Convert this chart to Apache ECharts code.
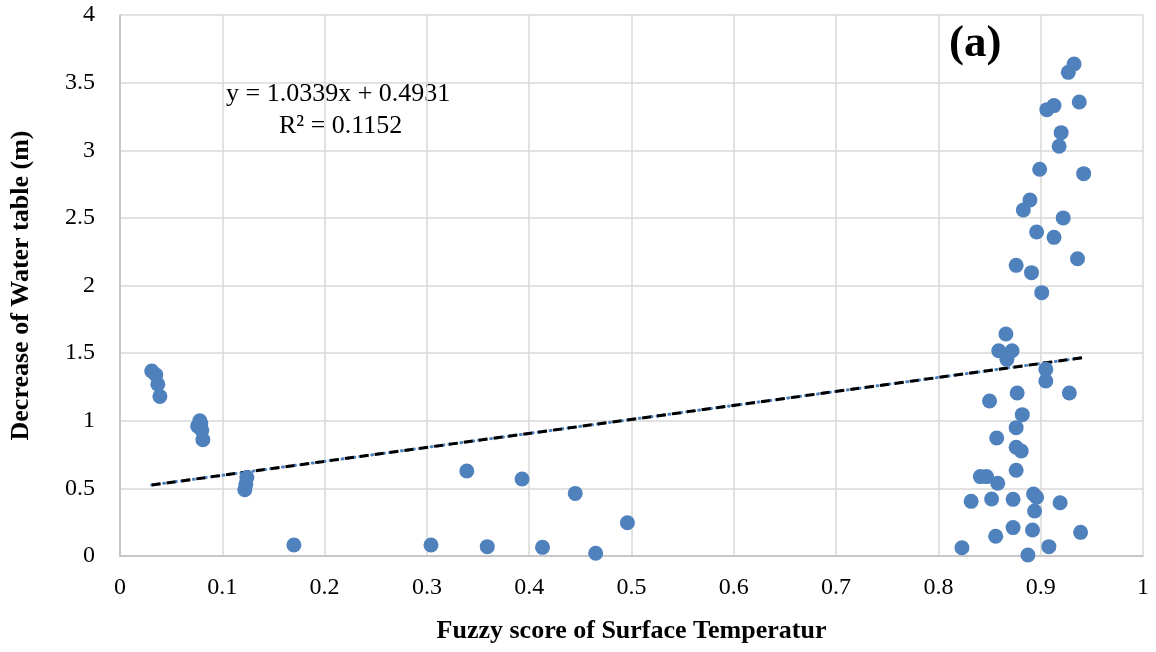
<!DOCTYPE html>
<html><head><meta charset="utf-8">
<script src="https://cdn.jsdelivr.net/npm/echarts@6/dist/echarts.min.js"></script>
<style>html,body{margin:0;padding:0;background:#fff}#c{width:1156px;height:652px}</style>
</head><body><div id="c"></div>
<script>
const xValues = [0.031,0.035,0.037,0.039, 0.078,0.079,0.076,0.080,0.081, 0.124,0.123,0.122,
 0.170,0.304,0.339,0.359,0.393,0.413,0.445,0.465,0.496,
 0.9326,0.927,0.9377,0.913,0.906,0.920,0.918,0.899,0.942,0.8895,0.883,0.922,0.896,0.913,0.876,0.936,0.891,0.901,
 0.866,0.859,0.872,0.867,0.905,0.905,0.877,0.928,0.850,0.882,0.876,0.857,0.876,0.881,0.876,0.841,0.847,0.858,
 0.893,0.896,0.832,0.852,0.873,0.919,0.894,0.873,0.856,0.892,0.939,0.823,0.908,0.8875];
const yValues = [1.368,1.34,1.27,1.18, 1.00,0.98,0.96,0.93,0.86, 0.58,0.53,0.49,
 0.081,0.081,0.628,0.069,0.569,0.064,0.463,0.02,0.246,
 3.638,3.576,3.357,3.33,3.30,3.13,3.03,2.86,2.827,2.632,2.558,2.50,2.396,2.356,2.149,2.198,2.095,1.947,
 1.641,1.518,1.518,1.454,1.38,1.294,1.205,1.205,1.146,1.045,0.949,0.872,0.804,0.776,0.634,0.587,0.587,0.538,
 0.458,0.434,0.404,0.421,0.419,0.394,0.333,0.21,0.146,0.192,0.175,0.061,0.069,0.007];
const slope = 1.0339, intercept = 0.4931;
const equationText = 'y = 1.0339x + 0.4931';
const r2Text = 'R² = 0.1152';
const panelLabel = '(a)';
const xTitle = 'Fuzzy score of Surface Temperatur';
const yTitle = 'Decrease of Water table (m)';

const pts = xValues.map((x,i)=>[x,yValues[i]]);
const xmin = Math.min(...xValues), xmax = Math.max(...xValues);
const trend = [[xmin, slope*xmin+intercept],[xmax, slope*xmax+intercept]];
const font = '"Liberation Serif","Times New Roman",serif';

const chart = echarts.init(document.getElementById('c'));
chart.setOption({
  animation:false,
  backgroundColor:'#fff',
  grid:{left:120,right:13,top:15,bottom:96,containLabel:false,outerBoundsMode:'none'},
  xAxis:{type:'value',min:0,max:1,interval:0.1,
    name:xTitle,nameLocation:'middle',nameGap:62,
    nameTextStyle:{fontFamily:font,fontSize:26,fontWeight:'bold',color:'#000'},
    axisLine:{show:true,lineStyle:{color:'#bfbfbf',width:1.5}},
    axisTick:{show:false},
    axisLabel:{fontFamily:font,fontSize:24,color:'#000',margin:20,
      formatter:v=>String(Math.round(v*10)/10)},
    splitLine:{show:true,lineStyle:{color:'#d9d9d9',width:1.5}}},
  yAxis:{type:'value',min:0,max:4,interval:0.5,
    name:yTitle,nameLocation:'middle',nameGap:86,
    nameTextStyle:{fontFamily:font,fontSize:26,fontWeight:'bold',color:'#000'},
    axisLine:{show:true,lineStyle:{color:'#bfbfbf',width:1.5}},
    axisTick:{show:false},
    axisLabel:{fontFamily:font,fontSize:24,color:'#000',margin:25},
    splitLine:{show:true,lineStyle:{color:'#d9d9d9',width:1.5}}},
  series:[
    {type:'line',data:trend,symbol:'none',z:3,
     lineStyle:{color:'#4f81bd',width:3,type:[1,5],cap:'round'}},
    {type:'line',data:trend,symbol:'none',z:4,
     lineStyle:{color:'#000',width:3,type:[9,6]}},
    {type:'scatter',data:pts,symbol:'circle',symbolSize:15,z:5,
     itemStyle:{color:'#4f81bd',opacity:1}}
  ],
  graphic:[
    {type:'text',left:226,top:81,style:{text:equationText,font:'26px '+font,fill:'#000'}},
    {type:'text',left:279,top:113,style:{text:r2Text,font:'26px '+font,fill:'#000'}},
    {type:'text',left:949,top:22,style:{text:panelLabel,font:'bold 45px '+font,fill:'#000'}}
  ]
});
</script></body></html>
